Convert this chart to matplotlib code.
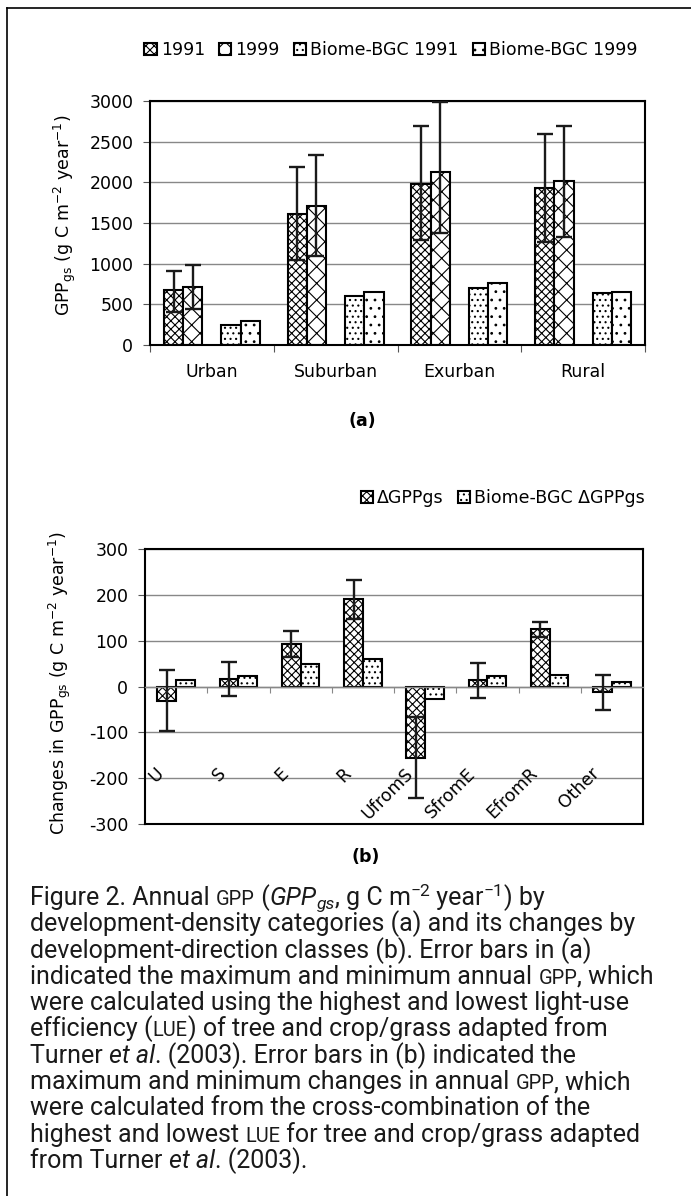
import matplotlib
matplotlib.use('Agg')
import matplotlib.pyplot as plt
import numpy as np
from matplotlib.lines import Line2D

# (a) annual GPP by development-density category
density_classes = ['Urban', 'Suburban', 'Exurban', 'Rural']
gpp_1991 = [675, 1613, 1985, 1936]
gpp_1991_max = [913, 2190, 2693, 2591]
gpp_1991_min = [401, 1040, 1293, 1265]
gpp_1999 = [712, 1711, 2128, 2014]
gpp_1999_max = [982, 2333, 2984, 2693]
gpp_1999_min = [442, 1093, 1379, 1334]
bgc_1991 = [246, 602, 704, 634]
bgc_1999 = [295, 651, 757, 647]
legend_a = ['1991', '1999', 'Biome-BGC 1991', 'Biome-BGC 1999']

# (b) changes in GPP by development-direction class
direction_classes = ['U', 'S', 'E', 'R', 'UfromS', 'SfromE', 'EfromR', 'Other']
delta_gpp = [-31, 16, 93, 190, -156, 15, 126, -13]
delta_max = [35, 53, 122, 233, -67, 51, 141, 25]
delta_min = [-96, -20, 64, 147, -243, -24, 108, -51]
delta_bgc = [15, 22, 49, 60, -28, 22, 26, 9]
legend_b = ['\u0394GPPgs', 'Biome-BGC \u0394GPPgs']

plt.rcParams['font.family'] = ['DejaVu Sans']
plt.rcParams['mathtext.default'] = 'regular'
plt.rcParams['axes.unicode_minus'] = False
plt.rcParams['hatch.linewidth'] = 0.8

W, H = 691, 1196
fig = plt.figure(figsize=(W / 100, H / 100), dpi=100)

def fx(px):
    return px / W

def fy(px):
    return 1 - px / H

bar_kw = dict(facecolor='white', edgecolor='black', linewidth=1.5)
err_kw = dict(fmt='none', ecolor='#1a1a1a', elinewidth=1.7, capsize=5.5, capthick=1.7, zorder=4)

# ---------------- panel (a) ----------------
ax1 = fig.add_axes([fx(150), fy(345), fx(495), 244 / H])
x = np.arange(len(density_classes))
w = 0.155
b1 = ax1.bar(x - 0.31, gpp_1991, w, hatch='xxxx', **bar_kw)
b2 = ax1.bar(x - 0.155, gpp_1999, w, hatch='xx', **bar_kw)
b3 = ax1.bar(x + 0.155, bgc_1991, w, hatch='...', **bar_kw)
b4 = ax1.bar(x + 0.31, bgc_1999, w, hatch='..', **bar_kw)

g91 = np.array(gpp_1991)
g99 = np.array(gpp_1999)
ax1.errorbar(x - 0.31, g91, yerr=[g91 - np.array(gpp_1991_min), np.array(gpp_1991_max) - g91], **err_kw)
ax1.errorbar(x - 0.155, g99, yerr=[g99 - np.array(gpp_1999_min), np.array(gpp_1999_max) - g99], **err_kw)

ax1.set_xlim(-0.5, len(density_classes) - 0.5)
ax1.set_ylim(0, 3000)
ax1.set_yticks(range(0, 3001, 500))
ax1.yaxis.grid(True, color='#888888', linewidth=1)
ax1.set_axisbelow(True)
ax1.set_xticks(np.arange(-0.5, len(density_classes)), labels=[])
ax1.set_xticks(x, labels=density_classes, minor=True)
ax1.tick_params(axis='x', which='major', direction='out', length=5, width=0.8, color='#555555')
ax1.tick_params(axis='x', which='minor', length=0, pad=13, labelsize=12.5)
ax1.tick_params(axis='y', direction='out', length=5, width=0.8, color='#555555', pad=7, labelsize=12.5)
for s in ax1.spines.values():
    s.set_linewidth(1.5)
    s.set_color('black')

fig.text(fx(65), fy(215), 'GPP$_{gs}$ (g C m$^{-2}$ year$^{-1}$)', rotation=90,
         ha='center', va='center', fontsize=12.5)
fig.text(fx(362), fy(421), '(a)', ha='center', va='center', fontsize=12.5, fontweight='bold')
fig.legend([b1, b2, b3, b4], legend_a, loc='center', bbox_to_anchor=(fx(391), fy(50)),
           ncol=4, frameon=False, fontsize=12.5, handlelength=0.7, handleheight=0.7,
           handletextpad=0.25, columnspacing=0.8, borderaxespad=0)

# ---------------- panel (b) ----------------
ax2 = fig.add_axes([fx(145), fy(824), fx(498), 275 / H])
x2 = np.arange(len(direction_classes))
c1 = ax2.bar(x2 - 0.15, delta_gpp, 0.3, hatch='xxxx', **bar_kw)
c2 = ax2.bar(x2 + 0.15, delta_bgc, 0.3, hatch='...', **bar_kw)
dg = np.array(delta_gpp)
ax2.errorbar(x2 - 0.15, dg, yerr=[dg - np.array(delta_min), np.array(delta_max) - dg], **err_kw)

ax2.set_xlim(-0.5, len(direction_classes) - 0.5)
ax2.set_ylim(-300, 300)
ax2.set_yticks(range(-300, 301, 100))
ax2.yaxis.grid(True, color='#888888', linewidth=1)
ax2.set_axisbelow(True)
ax2.set_xticks(np.arange(0.5, len(direction_classes) - 1), labels=[])
ax2.tick_params(axis='x', direction='out', length=4, width=0.8, color='#888888')
ax2.tick_params(axis='y', direction='out', length=5, width=0.8, color='#555555', pad=7, labelsize=12.5)
for side in ['top', 'left', 'right']:
    ax2.spines[side].set_linewidth(1.5)
    ax2.spines[side].set_color('black')
ax2.spines['bottom'].set_position(('data', 0))
ax2.spines['bottom'].set_color('#888888')
ax2.spines['bottom'].set_linewidth(1)
ax2.axhline(-300, color='black', linewidth=1.5, clip_on=False, zorder=5)

for i, name in enumerate(direction_classes):
    ax2.text(i - 0.14, -170, name, rotation=45, ha='right', va='top', fontsize=12.5)

fig.text(fx(60), fy(683), 'Changes in GPP$_{gs}$ (g C m$^{-2}$ year$^{-1}$)', rotation=90,
         ha='center', va='center', fontsize=12.5)
fig.text(fx(366), fy(857), '(b)', ha='center', va='center', fontsize=12.5, fontweight='bold')
fig.legend([c1, c2], legend_b, loc='center right', bbox_to_anchor=(fx(652), fy(498)),
           ncol=2, frameon=False, fontsize=12.5, handlelength=0.7, handleheight=0.7,
           handletextpad=0.25, columnspacing=0.8, borderaxespad=0)

# ---------------- caption ----------------
cap_font = ['Roboto', 'DejaVu Sans']
cap_size = 18
styles = {
    'n': dict(fontsize=cap_size),
    's': dict(fontsize=cap_size * 0.8),
    'i': dict(fontsize=cap_size, style='italic'),
    'isub': dict(fontsize=cap_size * 0.7, style='italic', dy=-4),
    'sup': dict(fontsize=cap_size * 0.7, dy=9),
}
caption = [
    [("Figure 2. Annual ", 'n'), ("GPP", 's'), (" (", 'n'), ("GPP", 'i'), ("gs", 'isub'),
     (", g C m", 'n'), ("\u22122", 'sup'), (" year", 'n'), ("\u22121", 'sup'), (") by", 'n')],
    [("development-density categories (a) and its changes by", 'n')],
    [("development-direction classes (b). Error bars in (a)", 'n')],
    [("indicated the maximum and minimum annual ", 'n'), ("GPP", 's'), (", which", 'n')],
    [("were calculated using the highest and lowest light-use", 'n')],
    [("efficiency (", 'n'), ("LUE", 's'), (") of tree and crop/grass adapted from", 'n')],
    [("Turner ", 'n'), ("et al", 'i'), (". (2003). Error bars in (b) indicated the", 'n')],
    [("maximum and minimum changes in annual ", 'n'), ("GPP", 's'), (", which", 'n')],
    [("were calculated from the cross-combination of the", 'n')],
    [("highest and lowest ", 'n'), ("LUE", 's'), (" for tree and crop/grass adapted", 'n')],
    [("from Turner ", 'n'), ("et al", 'i'), (". (2003).", 'n')],
]

renderer = fig.canvas.get_renderer()

def run_width(txt, kw):
    a = fig.text(0, 0, '|' + txt + '|', family=cap_font, **kw)
    b = fig.text(0, 0, '||', family=cap_font, **kw)
    wpx = a.get_window_extent(renderer).width - b.get_window_extent(renderer).width
    a.remove()
    b.remove()
    return wpx

base_y = 905
for k, line in enumerate(caption):
    xpos = 30
    ypos = base_y + k * 26.3
    for txt, key in line:
        kw = dict(styles[key])
        dy = kw.pop('dy', 0)
        fig.text(fx(xpos), fy(ypos - dy), txt, family=cap_font, va='baseline', ha='left',
                 color='#1a1a1a', **kw)
        xpos += run_width(txt, kw)

# page border (top and left edges)
fig.add_artist(Line2D([fx(7), 1], [fy(8), fy(8)], color='black', linewidth=1.2))
fig.add_artist(Line2D([fx(7), fx(7)], [fy(8), 0], color='black', linewidth=1.2))

fig.savefig('out.png', dpi=100)
